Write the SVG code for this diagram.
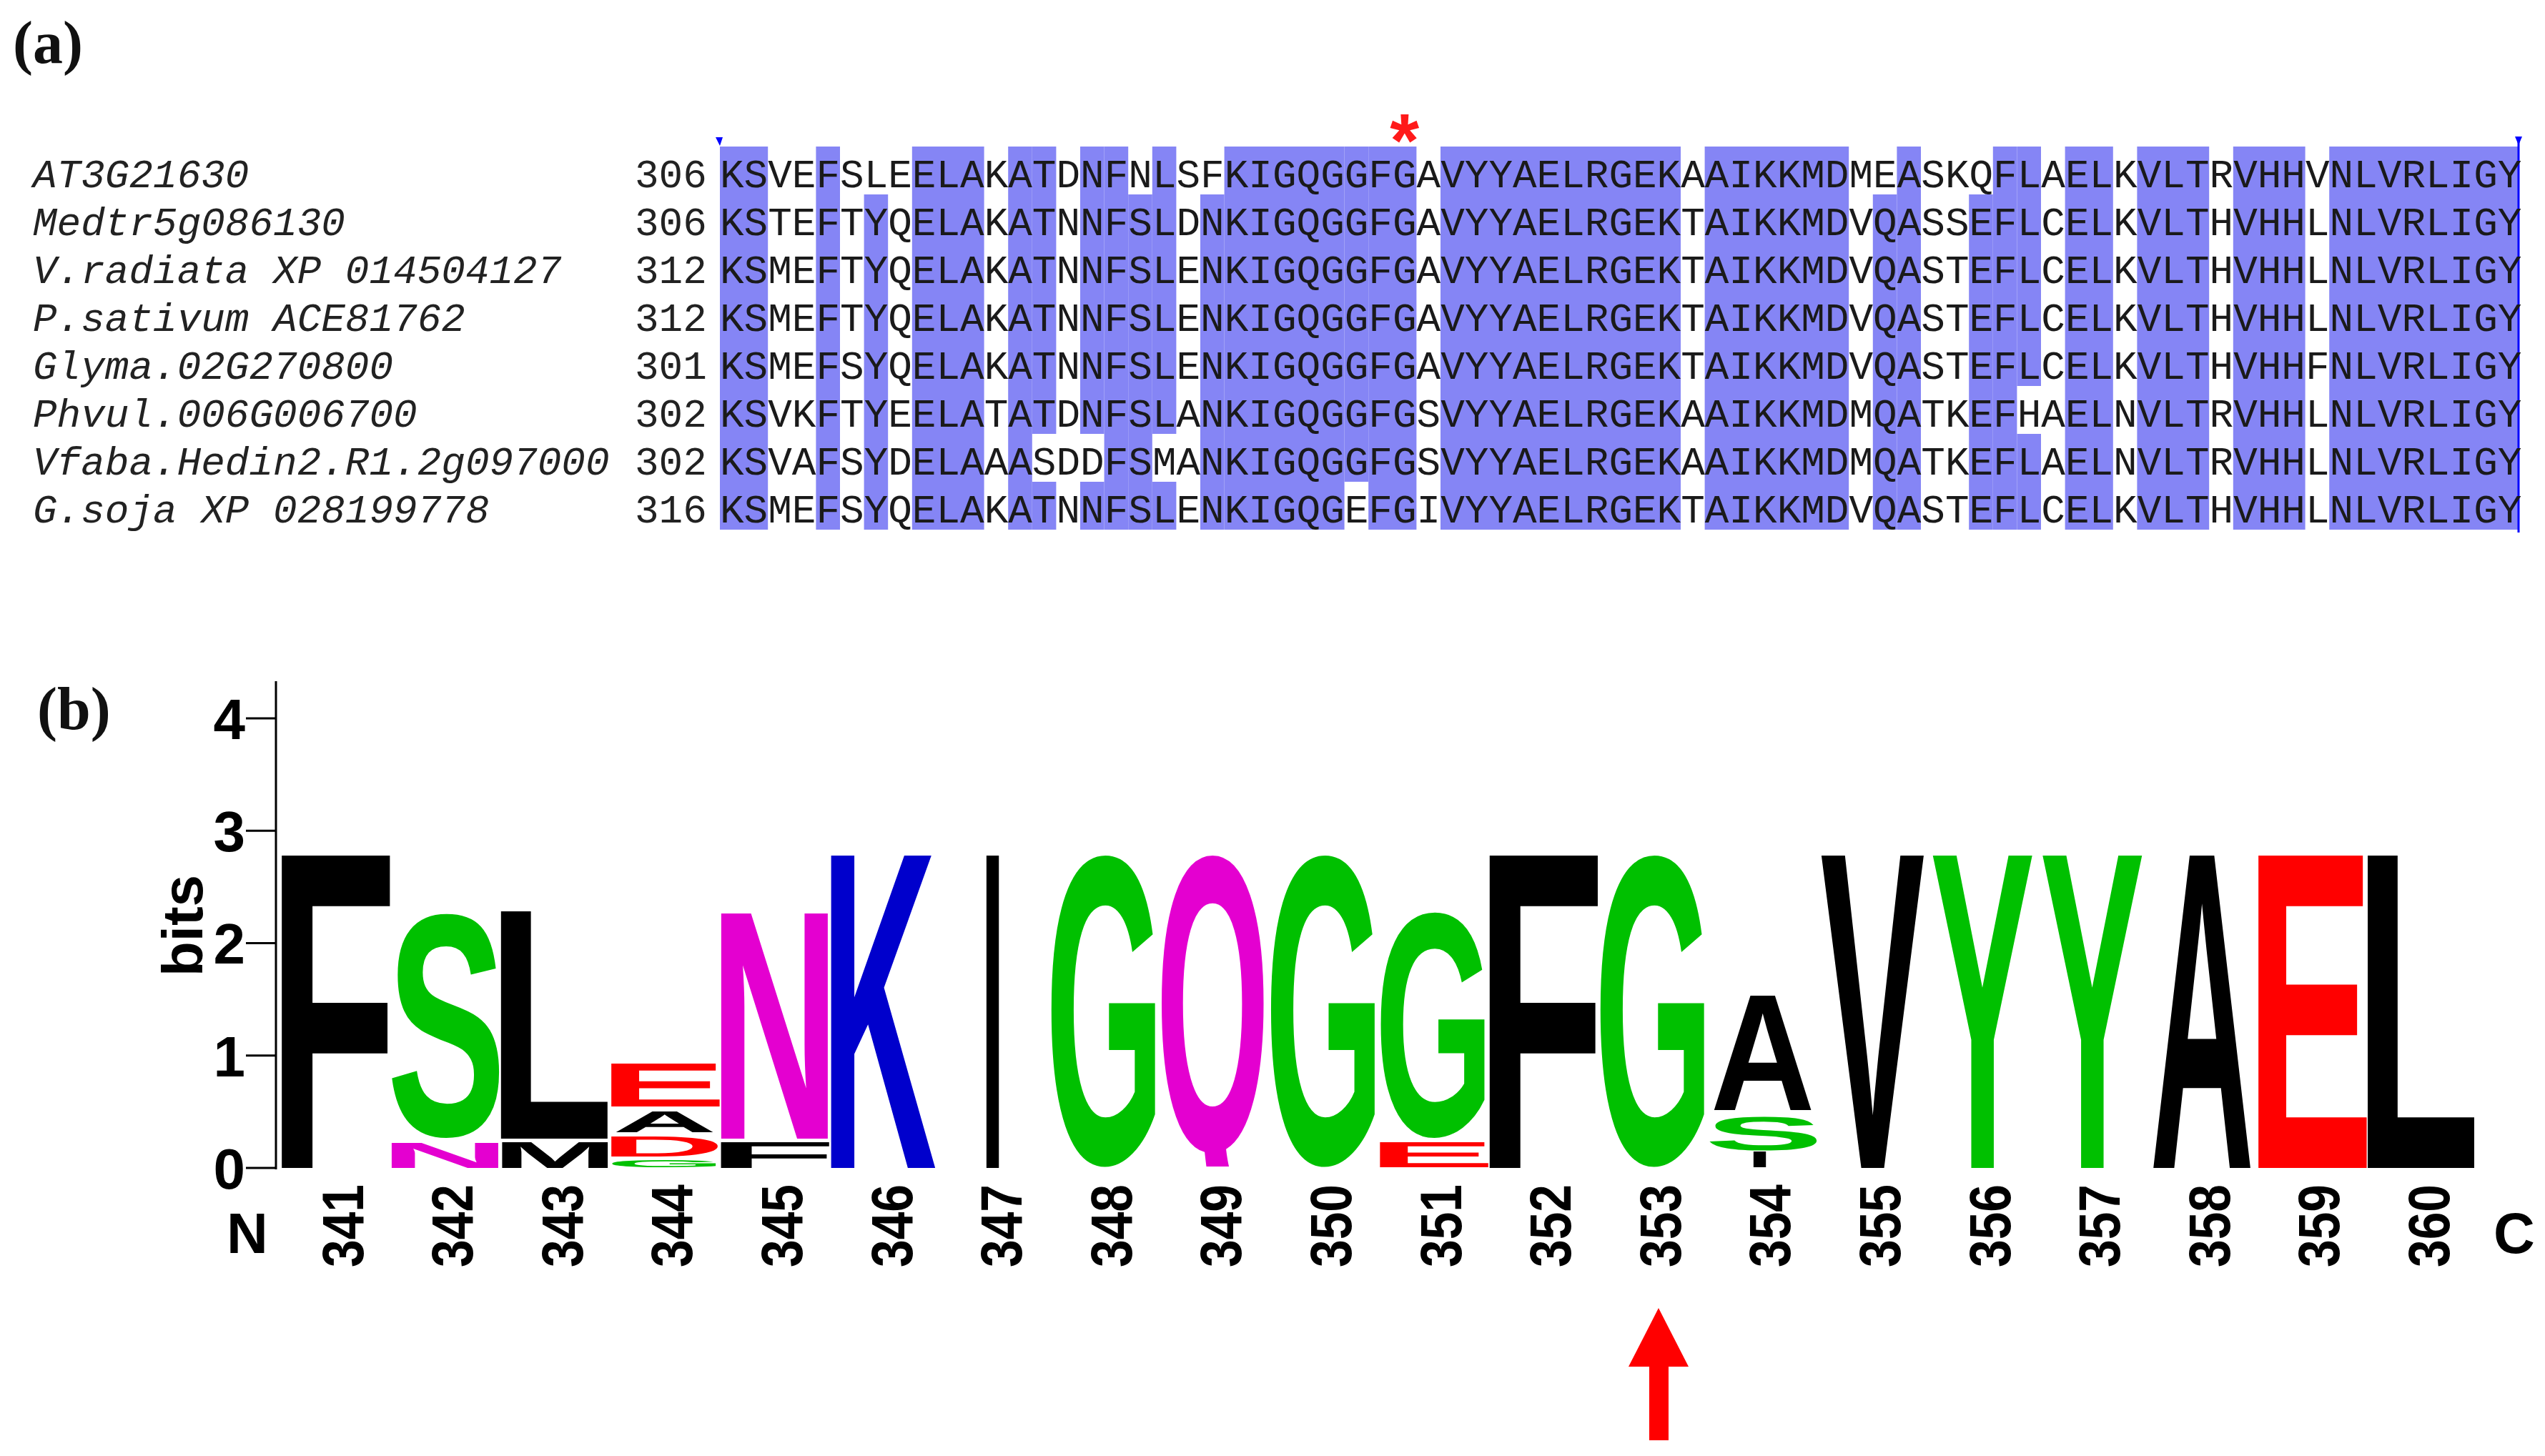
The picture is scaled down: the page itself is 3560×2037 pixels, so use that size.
<svg xmlns="http://www.w3.org/2000/svg" width="3560" height="2037" viewBox="0 0 3560 2037">
<style>
.panel{font-family:'Liberation Serif','Times New Roman',serif;font-weight:bold;font-size:84px;fill:#111}
.nm{font-family:'Liberation Mono','Courier New',monospace;font-style:italic;font-size:56px;fill:#222}
.num{font-family:'Liberation Mono','Courier New',monospace;font-size:56px;fill:#222}
.seq{font-family:'Liberation Mono','Courier New',monospace;font-size:56px;fill:#1a1a1a}
.sh{fill:#8585f5}
.lg{font-family:'Liberation Sans',Arial,sans-serif;font-weight:bold;font-size:100px}
.k{fill:#000}.g{fill:#00c000}.m{fill:#e400d0}.b{fill:#0000cc}.r{fill:#ff0000}
.ax{font-family:'Liberation Sans',Arial,sans-serif;font-weight:bold;font-size:80px;fill:#000}
.pos{font-family:'Liberation Sans',Arial,sans-serif;font-weight:bold;font-size:82px;fill:#000}
</style>
<defs>
<clipPath id="clipQ"><rect x="1600" y="1150" width="200" height="482"/></clipPath>
</defs>
<rect width="3560" height="2037" fill="#fff"/>
<g id="panel-a">
<text class="panel" x="18" y="88">(a)</text>
<g id="shading">
<rect class="sh" x="1007" y="205" width="67.2" height="536"/>
<rect class="sh" x="1141.4" y="205" width="33.6" height="536"/>
<rect class="sh" x="1208.6" y="272" width="33.6" height="469"/>
<rect class="sh" x="1275.8" y="205" width="100.8" height="536"/>
<rect class="sh" x="1410.2" y="205" width="33.6" height="536"/>
<rect class="sh" x="1443.8" y="205" width="33.6" height="402"/>
<rect class="sh" x="1443.8" y="674" width="33.6" height="67"/>
<rect class="sh" x="1511" y="205" width="33.6" height="402"/>
<rect class="sh" x="1511" y="674" width="33.6" height="67"/>
<rect class="sh" x="1544.6" y="205" width="33.6" height="536"/>
<rect class="sh" x="1578.2" y="272" width="33.6" height="469"/>
<rect class="sh" x="1611.8" y="205" width="33.6" height="402"/>
<rect class="sh" x="1611.8" y="674" width="33.6" height="67"/>
<rect class="sh" x="1679" y="272" width="33.6" height="469"/>
<rect class="sh" x="1712.6" y="205" width="168" height="536"/>
<rect class="sh" x="1880.6" y="205" width="33.6" height="469"/>
<rect class="sh" x="1914.2" y="205" width="67.2" height="536"/>
<rect class="sh" x="2015" y="205" width="336" height="536"/>
<rect class="sh" x="2384.6" y="205" width="201.6" height="536"/>
<rect class="sh" x="2619.8" y="272" width="33.6" height="469"/>
<rect class="sh" x="2653.4" y="205" width="33.6" height="536"/>
<rect class="sh" x="2754.2" y="272" width="33.6" height="469"/>
<rect class="sh" x="2787.8" y="205" width="33.6" height="536"/>
<rect class="sh" x="2821.4" y="205" width="33.6" height="335"/>
<rect class="sh" x="2821.4" y="607" width="33.6" height="134"/>
<rect class="sh" x="2888.6" y="205" width="67.2" height="536"/>
<rect class="sh" x="2989.4" y="205" width="100.8" height="536"/>
<rect class="sh" x="3123.8" y="205" width="100.8" height="536"/>
<rect class="sh" x="3258.2" y="205" width="265.8" height="536"/>
</g>
<g id="markers">
<polygon points="1001,192 1011,192 1007,204" fill="#0000ff"/>
<line x1="3523" y1="193" x2="3523" y2="745" stroke="#0000ff" stroke-width="3"/>
<polygon points="3518,191 3528,191 3523,203" fill="#0000ff"/>
<text x="1964.6" y="233" text-anchor="middle" font-family="Liberation Sans, Arial, sans-serif" font-weight="bold" font-size="105" fill="#ff1a1a">*</text>
</g>
<g id="names">
<text class="nm" x="46" y="262">AT3G21630</text>
<text class="nm" x="46" y="329">Medtr5g086130</text>
<text class="nm" x="46" y="396">V.radiata XP 014504127</text>
<text class="nm" x="46" y="463">P.sativum ACE81762</text>
<text class="nm" x="46" y="530">Glyma.02G270800</text>
<text class="nm" x="46" y="597">Phvul.006G006700</text>
<text class="nm" x="46" y="664">Vfaba.Hedin2.R1.2g097000</text>
<text class="nm" x="46" y="731">G.soja XP 028199778</text>
</g>
<g id="starts">
<text class="num" x="888" y="262">306</text>
<text class="num" x="888" y="329">306</text>
<text class="num" x="888" y="396">312</text>
<text class="num" x="888" y="463">312</text>
<text class="num" x="888" y="530">301</text>
<text class="num" x="888" y="597">302</text>
<text class="num" x="888" y="664">302</text>
<text class="num" x="888" y="731">316</text>
</g>
<g id="sequences">
<text class="seq" x="1007" y="262">KSVEFSLEELAKATDNFNLSFKIGQGGFGAVYYAELRGEKAAIKKMDMEASKQFLAELKVLTRVHHVNLVRLIGY</text>
<text class="seq" x="1007" y="329">KSTEFTYQELAKATNNFSLDNKIGQGGFGAVYYAELRGEKTAIKKMDVQASSEFLCELKVLTHVHHLNLVRLIGY</text>
<text class="seq" x="1007" y="396">KSMEFTYQELAKATNNFSLENKIGQGGFGAVYYAELRGEKTAIKKMDVQASTEFLCELKVLTHVHHLNLVRLIGY</text>
<text class="seq" x="1007" y="463">KSMEFTYQELAKATNNFSLENKIGQGGFGAVYYAELRGEKTAIKKMDVQASTEFLCELKVLTHVHHLNLVRLIGY</text>
<text class="seq" x="1007" y="530">KSMEFSYQELAKATNNFSLENKIGQGGFGAVYYAELRGEKTAIKKMDVQASTEFLCELKVLTHVHHFNLVRLIGY</text>
<text class="seq" x="1007" y="597">KSVKFTYEELATATDNFSLANKIGQGGFGSVYYAELRGEKAAIKKMDMQATKEFHAELNVLTRVHHLNLVRLIGY</text>
<text class="seq" x="1007" y="664">KSVAFSYDELAAASDDFSMANKIGQGGFGSVYYAELRGEKAAIKKMDMQATKEFLAELNVLTRVHHLNLVRLIGY</text>
<text class="seq" x="1007" y="731">KSMEFSYQELAKATNNFSLENKIGQGEFGIVYYAELRGEKTAIKKMDVQASTEFLCELKVLTHVHHLNLVRLIGY</text>
</g>
</g>
<g id="panel-b">
<text class="panel" x="52" y="1020">(b)</text>
<g id="axis">
<line x1="386" y1="953" x2="386" y2="1636" stroke="#000" stroke-width="3"/>
<line x1="344" y1="1005" x2="386" y2="1005" stroke="#000" stroke-width="3"/>
<line x1="344" y1="1162.25" x2="386" y2="1162.25" stroke="#000" stroke-width="3"/>
<line x1="344" y1="1319.5" x2="386" y2="1319.5" stroke="#000" stroke-width="3"/>
<line x1="344" y1="1476.75" x2="386" y2="1476.75" stroke="#000" stroke-width="3"/>
<line x1="344" y1="1634" x2="386" y2="1634" stroke="#000" stroke-width="3"/>
<text class="ax" x="343" y="1034" text-anchor="end">4</text>
<text class="ax" x="343" y="1191" text-anchor="end">3</text>
<text class="ax" x="343" y="1348" text-anchor="end">2</text>
<text class="ax" x="343" y="1506" text-anchor="end">1</text>
<text class="ax" x="343" y="1663" text-anchor="end">0</text>
<text class="ax" transform="translate(283,1295) rotate(-90)" text-anchor="middle">bits</text>
<text class="ax" x="317" y="1753">N</text>
<text class="ax" x="3488" y="1753">C</text>
</g>
<g id="logo">
<g id="col341"><text class="lg k" transform="translate(374.25,1634) scale(2.980,6.352)">F</text></g>
<g id="col342"><text class="lg g" transform="translate(541.1,1587.7) scale(2.5,4.424)">S</text><text class="lg m" transform="translate(531.1,1634) scale(2.535,0.494)">N</text></g>
<g id="col343"><text class="lg k" transform="translate(681.4,1593) scale(2.903,4.622)">L</text><text class="lg k" transform="translate(688.2,1634) scale(2.113,0.509)">M</text></g>
<g id="col344"><text class="lg r" transform="translate(837.1,1548) scale(2.699,0.872)">E</text><text class="lg k" transform="translate(856.8,1584) scale(2.022,0.4215)">A</text><text class="lg r" transform="translate(839.1,1618) scale(2.425,0.407)">D</text><text class="lg g" transform="translate(847.6,1632.8) scale(2.147,0.1545)">G</text></g>
<g id="col345"><text class="lg m" transform="translate(991.9,1593) scale(2.535,4.578)">N</text><text class="lg k" transform="translate(988.65,1634) scale(2.980,0.523)">F</text></g>
<g id="col346"><text class="lg b" transform="translate(1147.55,1634) scale(2.253,6.352)">K</text></g>
<g id="col347"><text class="lg k" transform="translate(1371.8,1634) scale(1.206,6.352)">I</text></g>
<g id="col348"><text class="lg g" transform="translate(1461.97,1626.6) scale(2.147,6.152)">G</text></g>
<g id="col349" clip-path="url(#clipQ)"><text class="lg m" transform="translate(1616.6,1608.9) scale(2.051,5.899)">Q</text></g>
<g id="col350"><text class="lg g" transform="translate(1769.17,1626.6) scale(2.147,6.152)">G</text></g>
<g id="col351"><text class="lg g" transform="translate(1922.77,1587.7) scale(2.147,4.452)">G</text><text class="lg r" transform="translate(1912.3,1633) scale(2.699,0.509)">E</text></g>
<g id="col352"><text class="lg k" transform="translate(2063.85,1634) scale(2.980,6.352)">F</text></g>
<g id="col353"><text class="lg g" transform="translate(2229.97,1626.6) scale(2.147,6.152)">G</text></g>
<g id="col354"><text class="lg k" transform="translate(2392.8,1553) scale(2.022,2.326)">A</text><text class="lg g" transform="translate(2384.3,1609.2) scale(2.5,0.674)">S</text><text class="lg k" transform="translate(2444.8,1633) scale(1.206,0.305)">I</text></g>
<g id="col355"><text class="lg k" transform="translate(2546.4,1634) scale(2.189,6.352)">V</text></g>
<g id="col356"><text class="lg g" transform="translate(2700,1634) scale(2.192,6.352)">Y</text></g>
<g id="col357"><text class="lg g" transform="translate(2853.6,1634) scale(2.192,6.352)">Y</text></g>
<g id="col358"><text class="lg k" transform="translate(3007.2,1634) scale(2.022,6.352)">A</text></g>
<g id="col359"><text class="lg r" transform="translate(3141.1,1634) scale(2.699,6.352)">E</text></g>
<g id="col360"><text class="lg k" transform="translate(3292.6,1634) scale(2.903,6.352)">L</text></g>
</g>
<g id="positions">
<text class="pos" transform="translate(507.5,1773) rotate(-90)" textLength="116" lengthAdjust="spacingAndGlyphs">341</text>
<text class="pos" transform="translate(661.1,1773) rotate(-90)" textLength="116" lengthAdjust="spacingAndGlyphs">342</text>
<text class="pos" transform="translate(814.7,1773) rotate(-90)" textLength="116" lengthAdjust="spacingAndGlyphs">343</text>
<text class="pos" transform="translate(968.3,1773) rotate(-90)" textLength="116" lengthAdjust="spacingAndGlyphs">344</text>
<text class="pos" transform="translate(1121.9,1773) rotate(-90)" textLength="116" lengthAdjust="spacingAndGlyphs">345</text>
<text class="pos" transform="translate(1275.5,1773) rotate(-90)" textLength="116" lengthAdjust="spacingAndGlyphs">346</text>
<text class="pos" transform="translate(1429.1,1773) rotate(-90)" textLength="116" lengthAdjust="spacingAndGlyphs">347</text>
<text class="pos" transform="translate(1582.7,1773) rotate(-90)" textLength="116" lengthAdjust="spacingAndGlyphs">348</text>
<text class="pos" transform="translate(1736.3,1773) rotate(-90)" textLength="116" lengthAdjust="spacingAndGlyphs">349</text>
<text class="pos" transform="translate(1889.9,1773) rotate(-90)" textLength="116" lengthAdjust="spacingAndGlyphs">350</text>
<text class="pos" transform="translate(2043.5,1773) rotate(-90)" textLength="116" lengthAdjust="spacingAndGlyphs">351</text>
<text class="pos" transform="translate(2197.1,1773) rotate(-90)" textLength="116" lengthAdjust="spacingAndGlyphs">352</text>
<text class="pos" transform="translate(2350.7,1773) rotate(-90)" textLength="116" lengthAdjust="spacingAndGlyphs">353</text>
<text class="pos" transform="translate(2504.3,1773) rotate(-90)" textLength="116" lengthAdjust="spacingAndGlyphs">354</text>
<text class="pos" transform="translate(2657.9,1773) rotate(-90)" textLength="116" lengthAdjust="spacingAndGlyphs">355</text>
<text class="pos" transform="translate(2811.5,1773) rotate(-90)" textLength="116" lengthAdjust="spacingAndGlyphs">356</text>
<text class="pos" transform="translate(2965.1,1773) rotate(-90)" textLength="116" lengthAdjust="spacingAndGlyphs">357</text>
<text class="pos" transform="translate(3118.7,1773) rotate(-90)" textLength="116" lengthAdjust="spacingAndGlyphs">358</text>
<text class="pos" transform="translate(3272.3,1773) rotate(-90)" textLength="116" lengthAdjust="spacingAndGlyphs">359</text>
<text class="pos" transform="translate(3425.9,1773) rotate(-90)" textLength="116" lengthAdjust="spacingAndGlyphs">360</text>
</g>
<g id="arrow">
<polygon points="2320,1830 2362,1912 2334,1912 2334,2015 2307,2015 2307,1912 2278,1912" fill="#ff0000"/>
</g>
</g>
</svg>
